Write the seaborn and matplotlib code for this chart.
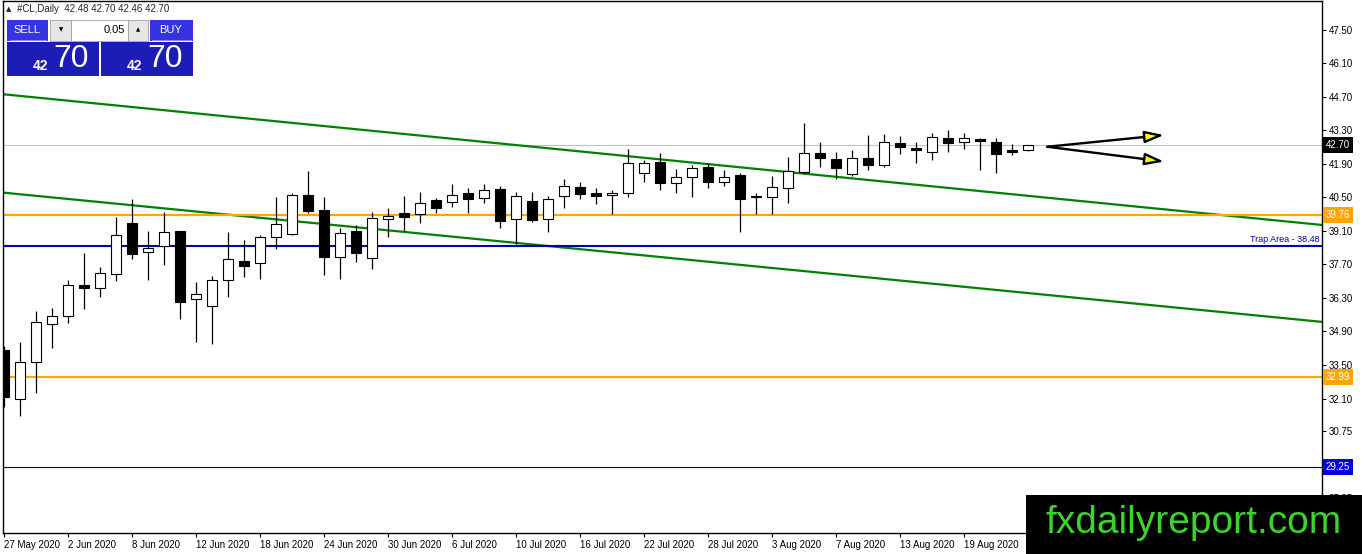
import matplotlib
matplotlib.use('Agg')
import matplotlib.pyplot as plt
from matplotlib.patches import Rectangle
import seaborn as sns
import pandas as pd

sns.set_style("white")
plt.rcParams['font.family'] = ['Liberation Sans', 'DejaVu Sans']

# daily bars, 27 May 2020 .. 25 Aug 2020
dates = pd.bdate_range('2020-05-27', '2020-08-25')
opens = [34.13, 32.09, 33.64, 35.20, 35.56, 36.83, 36.73, 37.29, 39.43, 38.21,
         38.49, 39.10, 36.24, 35.95, 37.04, 37.83, 37.75, 38.84, 38.96, 40.61,
         39.96, 38.03, 39.10, 37.96, 39.61, 39.84, 39.81, 40.38, 40.30, 40.68,
         40.46, 40.84, 39.59, 40.34, 39.59, 40.56, 40.94, 40.70, 40.59, 40.68,
         41.51, 41.98, 41.09, 41.35, 41.76, 41.16, 41.43, 40.52, 40.51, 40.91,
         41.58, 42.35, 42.10, 41.47, 42.14, 41.85, 42.76, 42.56, 42.41, 43.00,
         42.81, 42.93, 42.81, 42.49, 42.48]
highs = [34.31, 34.45, 35.76, 35.88, 37.05, 38.19, 37.61, 39.67, 40.43, 39.10,
         39.88, 39.12, 36.95, 37.21, 39.06, 38.72, 38.92, 40.52, 40.68, 41.61,
         40.51, 39.21, 39.34, 39.88, 40.05, 40.56, 40.72, 40.48, 41.07, 40.91,
         41.07, 40.98, 40.74, 40.72, 40.56, 41.27, 41.15, 40.89, 40.81, 42.53,
         42.07, 42.37, 41.68, 41.86, 41.95, 41.65, 41.54, 40.70, 41.40, 42.20,
         43.62, 42.82, 42.40, 42.49, 43.11, 43.15, 43.06, 42.83, 43.21, 43.32,
         43.21, 42.97, 42.97, 42.74, 42.70]
lows = [31.76, 31.38, 32.34, 34.22, 35.27, 35.84, 36.35, 37.02, 37.93, 37.05,
        37.68, 35.41, 34.47, 34.37, 36.35, 37.19, 37.08, 38.36, 38.92, 39.84,
        37.26, 37.08, 37.79, 37.50, 38.84, 39.10, 39.45, 39.84, 40.12, 39.87,
        40.28, 39.24, 38.52, 39.49, 39.07, 40.07, 40.45, 40.23, 39.82, 40.54,
        41.16, 40.81, 40.70, 40.54, 40.91, 40.99, 39.07, 39.82, 39.82, 40.28,
        41.50, 41.79, 41.26, 41.40, 41.65, 41.76, 42.33, 41.93, 42.07, 42.41,
        42.53, 41.65, 41.51, 42.28, 42.46]
closes = [32.18, 33.64, 35.29, 35.54, 36.83, 36.73, 37.33, 38.92, 38.15, 38.38,
          39.05, 36.14, 36.45, 37.04, 37.92, 37.65, 38.84, 39.38, 40.61, 39.94,
          38.03, 39.00, 38.17, 39.63, 39.73, 39.67, 40.26, 40.07, 40.59, 40.45,
          40.83, 39.53, 40.55, 39.56, 40.42, 40.98, 40.66, 40.58, 40.69, 41.93,
          41.93, 41.09, 41.35, 41.72, 41.16, 41.37, 40.45, 40.55, 40.93, 41.62,
          42.35, 42.14, 41.72, 42.14, 41.85, 42.81, 42.60, 42.47, 43.04, 42.76,
          42.97, 42.87, 42.31, 42.41, 42.70]

# drawn objects
upper_channel_x = [0, 82.4]
upper_channel_y = [44.81, 39.35]
lower_channel_x = [0, 82.4]
lower_channel_y = [40.70, 35.30]
orange_levels = [39.76, 32.99]
trap_level = 38.48
low_level = 29.25
last_price = 42.70
arrow_start = (65.2, 42.62)
arrow_tips = [(72.5, 43.11), (72.5, 42.00)]

price_ticks = [47.50, 46.10, 44.70, 43.30, 41.90, 40.50, 39.10, 37.70,
               36.30, 34.90, 33.50, 32.10, 30.75, 27.95]
date_tick_idx = list(range(0, 61, 4))

W, H = 1362, 554
fig = plt.figure(figsize=(W / 100, H / 100), dpi=100)
ax = fig.add_axes([3 / W, 21 / H, 1319 / W, 532 / H])
ax.set_facecolor('white')

# candles
x = list(range(len(dates)))
ax.vlines(x, lows, highs, color='black', lw=0.9, zorder=3)
bottoms = [min(o, c) for o, c in zip(opens, closes)]
heights = [max(abs(c - o), 0.02) for o, c in zip(opens, closes)]
faces = ['white' if c >= o else 'black' for o, c in zip(opens, closes)]
ax.bar(x, heights, bottom=bottoms, width=0.66, color=faces,
       edgecolor='black', lw=0.8, zorder=4)

# channel lines
sns.lineplot(x=upper_channel_x, y=upper_channel_y, color='#008000', lw=1.6, ax=ax, zorder=2)
sns.lineplot(x=lower_channel_x, y=lower_channel_y, color='#008000', lw=1.6, ax=ax, zorder=2)

# horizontal levels
ax.axhline(last_price, color='#c0c0c0', lw=0.8, zorder=1)
for lv in orange_levels:
    ax.axhline(lv, color='#ffa500', lw=1.6, zorder=2)
ax.axhline(trap_level, color='#0000b0', lw=1.5, zorder=2)
ax.axhline(low_level, color='#000080', lw=0.8, zorder=2)
ax.text(0.998, trap_level + 0.07, 'Trap Area - 38.48', transform=ax.get_yaxis_transform(),
        ha='right', va='bottom', fontsize=6.5, color='#0000c0')

# arrows
for tip in arrow_tips:
    ax.annotate('', xy=tip, xytext=arrow_start,
                arrowprops=dict(arrowstyle='-|>,head_length=1.15,head_width=0.36',
                                fc='#ffff00', ec='black', lw=1.7, mutation_scale=10,
                                shrinkA=0, shrinkB=0), zorder=5)

ax.set_xlim(-0.0625, 82.375)
ax.set_ylim(26.48, 48.71)

ax.yaxis.tick_right()
ax.set_yticks(price_ticks)
ax.set_yticklabels([f'{p:.2f}' for p in price_ticks])
ax.set_xticks(date_tick_idx)
ax.set_xticklabels([f"{dates[i].day} {dates[i].strftime('%b %Y')}" for i in date_tick_idx],
                   ha='left')
ax.tick_params(axis='y', direction='out', length=3, width=0.8, labelsize=7, pad=2,
               colors='black', right=True, left=False)
ax.tick_params(axis='x', direction='out', length=3, width=0.8, labelsize=7, pad=2,
               colors='black', bottom=True)
for lab in ax.get_xticklabels():
    lab.set_x(0)
for s in ax.spines.values():
    s.set_color('black')
    s.set_linewidth(1.0)

# price boxes on the axis
for val, col in [(42.70, 'black'), (39.76, '#ffa500'), (32.99, '#ffa500'), (29.25, '#0000e0')]:
    ax.text(1.003, val, f'{val:.2f}', transform=ax.get_yaxis_transform(), ha='left',
            va='center', fontsize=7, color='white', clip_on=False,
            bbox=dict(boxstyle='square,pad=0.3', fc=col, ec='none'))

# pixel overlay for header, trade panel and watermark
ov = fig.add_axes([0, 0, 1, 1], zorder=10)
ov.set_xlim(0, W)
ov.set_ylim(H, 0)
ov.axis('off')
ov.patch.set_alpha(0)


def box(x0, y0, x1, y1, fc, ec='none', lw=0):
    ov.add_patch(Rectangle((x0, y0), x1 - x0, y1 - y0, fc=fc, ec=ec, lw=lw))


ov.text(6, 9, '\u25b2', fontsize=5, va='center', ha='left', family=['DejaVu Sans'])
ov.text(17, 9, '#CL,Daily  42.48 42.70 42.46 42.70', fontsize=7, va='center', ha='left')

box(7, 20, 48, 41, '#3434e2')
box(150, 20, 193, 41, '#3434e2')
box(50, 20, 71, 41, '#e6e6e6', ec='#a0a0a0', lw=0.6)
box(71, 20, 128, 41, 'white', ec='#a0a0a0', lw=0.6)
box(128, 20, 148, 41, '#e6e6e6', ec='#a0a0a0', lw=0.6)
ov.plot([10, 46], [40, 40], color='#9a9aff', lw=0.6)
ov.plot([152, 191], [40, 40], color='#9a9aff', lw=0.6)
ov.text(27, 30, 'SELL', color='white', fontsize=8, ha='center', va='center')
ov.text(171, 30, 'BUY', color='white', fontsize=8, ha='center', va='center')
ov.text(125, 30, '0.05', color='black', fontsize=8, ha='right', va='center')
ov.text(61, 30, '\u25bc', color='black', fontsize=4, ha='center', va='center', family=['DejaVu Sans'])
ov.text(138, 30, '\u25b2', color='black', fontsize=4, ha='center', va='center', family=['DejaVu Sans'])
box(7, 42, 99, 76, '#1c1cb6')
box(101, 42, 193, 76, '#1c1cb6')
for bx in (7, 101):
    ov.text(bx + 33, 66, '42', color='white', fontsize=10, fontweight='bold', ha='center', va='center')
    ov.text(bx + 64, 59, '70', color='white', fontsize=23, ha='center', va='center')

box(1026, 495, W, H, 'black')
ov.text(1194, 523, 'fxdailyreport.com', color='#3ad42c', fontsize=28, ha='center', va='center')

fig.savefig('out.png', dpi=100, facecolor='white')
